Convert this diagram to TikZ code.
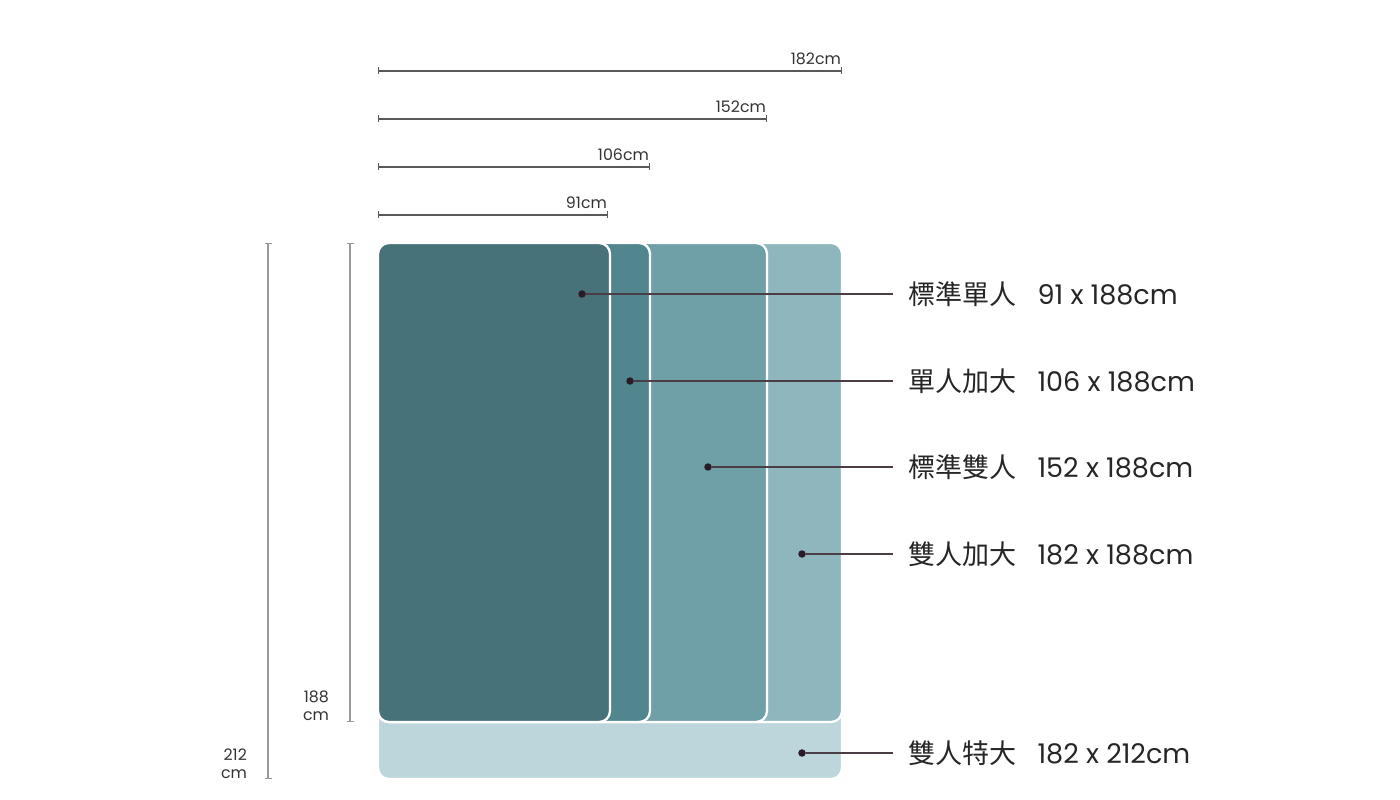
\documentclass[tikz,border=0pt]{standalone}
\usepackage{fontspec}
\setmainfont{Poppins}
\newfontfamily\cjk{Noto Sans CJK TC}
\usetikzlibrary{positioning,arrows.meta}
\definecolor{bedA}{HTML}{477279}
\definecolor{bedB}{HTML}{52868F}
\definecolor{bedC}{HTML}{6F9FA7}
\definecolor{bedD}{HTML}{8FB6BD}
\definecolor{bedE}{HTML}{BCD6DB}
\definecolor{inkdot}{HTML}{2B1B26}
\definecolor{inkline}{HTML}{4A3D45}
\tikzset{
  bed/.style={draw=white, line width=1.3pt, rounded corners=0.22cm},
  widthline/.style={draw=black!65, line width=0.7pt, {Bar[width=0.14cm]}-{Bar[width=0.14cm]}},
  heightline/.style={draw=black!40, line width=0.8pt, {Bar[width=0.14cm]}-{Bar[width=0.14cm]}},
  dimtext/.style={font=\fontsize{9}{10}\selectfont, text=black!80, inner sep=1pt},
  sizedot/.style={circle, fill=inkdot, inner sep=0pt, minimum size=0.15cm},
  leader/.style={draw=inkline, line width=0.7pt},
  sizelabel/.style={anchor=west, inner xsep=0.3cm, inner ysep=0pt, text=black!85,
    font=\fontsize{15.4}{17}\selectfont},
}
\begin{document}
\begin{tikzpicture}[x=0.02cm, y=-0.02cm]
		\useasboundingbox (0,0) rectangle (1400,800);
		
		% beds, largest first
		\foreach \w/\h/\c in {842/779/bedE, 842/722/bedD, 767/722/bedC, 650/722/bedB, 610/722/bedA}
			\draw[bed, fill=\c] (378,243) rectangle (\w,\h);
		
		% widths on top
		\foreach \w/\y/\t in {842/71/182, 767/119/152, 650/167/106, 608/215/91} {
			\draw[widthline] (378,\y) -- (\w,\y);
			\node[dimtext, anchor=south east] (w\t) at (\w+1,\y-4) {\t cm};
		}
		
		% heights on the left
		\draw[heightline] (350,243) -- (350,722);
		\node[dimtext, align=right, anchor=east] (h188) at (331,706) {188\\cm};
		\draw[heightline] (268,243) -- (268,779);
		\node[dimtext, align=right, anchor=east] (h212) at (249,764) {212\\cm};
		
		% size names
		\foreach \n/\x/\y/\zh/\sz in {1/582/294/標準單人/91 x 188cm, 2/630/381/單人加大/106 x 188cm,
			3/708/467/標準雙人/152 x 188cm, 4/802/554/雙人加大/182 x 188cm, 5/802/753/雙人特大/182 x 212cm} {
			\node[sizedot] (d\n) at (\x,\y) {};
			\node[sizelabel] (l\n) at (893,\y) {{\cjk \zh}\hspace{0.42cm}\sz};
			\draw[leader] (d\n) -- (l\n.west);
		}
		
\end{tikzpicture}
\end{document}
